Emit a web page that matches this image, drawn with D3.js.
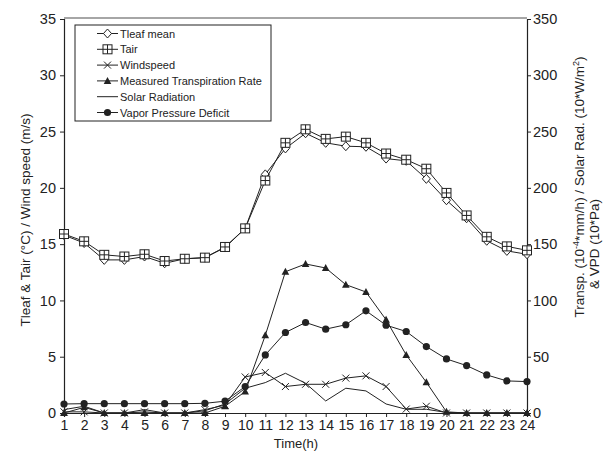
<!DOCTYPE html>
<html><head><meta charset="utf-8">
<script src="https://cdn.jsdelivr.net/npm/d3@7"></script>
<style>
html,body{margin:0;padding:0;background:#fff;}
text{font-family:"Liberation Sans",Arial,sans-serif;fill:#222;}
</style></head>
<body>
<svg id="c" width="609" height="457"></svg>
<script>
const hours = d3.range(1, 25);
const tleaf  = [15.8,15.1,13.6,13.6,13.9,13.3,13.7,13.8,14.7,16.4,21.2,23.5,24.85,24.0,23.7,23.65,22.6,22.4,20.8,18.9,17.3,15.3,14.4,14.1];
const tair   = [15.9,15.25,14.05,13.9,14.1,13.5,13.7,13.8,14.75,16.4,20.65,24.0,25.2,24.35,24.55,24.0,23.05,22.5,21.7,19.55,17.55,15.65,14.8,14.45];
const wind   = [0.1,0.1,0,0,0.1,0,0,0.3,0.7,3.2,3.6,2.35,2.55,2.55,3.1,3.3,2.35,0.35,0.6,0,0,0,0,0];
const transp = [0,5,0,0,0,0,0,0,6,19,69,125.5,132.4,128.8,114,107.5,82.8,51.6,27.3,1,0,0,0,0];
const solar  = [3,6,0,0,3,0,0,2,8,22,27,35.3,26.4,10.7,22,19.6,8,3.3,3.3,0.5,0,0,0,0];
const vpd    = [8,8.3,8.3,8.3,8.3,8.3,8.3,8.6,10.5,23.5,51.6,71.5,80.4,74.5,78.4,90.8,78,72.4,59,48,42.1,33.8,28.5,27.9];
const leftTicks = [0,5,10,15,20,25,30,35];
const rightTicks = [0,50,100,150,200,250,300,350];
const legendLabels = ["Tleaf mean","Tair","Windspeed","Measured Transpiration Rate","Solar Radiation","Vapor Pressure Deficit"];

const svg = d3.select("#c");
const L = 64, R = 527, T = 19, B = 413;
const x = d3.scaleLinear().domain([1,24]).range([L,R]);
const yL = d3.scaleLinear().domain([0,35]).range([B,T]);
const yR = d3.scaleLinear().domain([0,350]).range([B,T]);

// top frame
svg.append("line").attr("x1",L).attr("x2",R).attr("y1",T-1).attr("y2",T-1)
  .attr("stroke","#888").attr("stroke-width",1.5);

// axes
const gL = svg.append("g").attr("transform",`translate(${L},0)`)
  .call(d3.axisLeft(yL).tickValues(leftTicks).tickSize(4).tickPadding(4).tickFormat(d3.format("d")));
const gR = svg.append("g").attr("transform",`translate(${R},0)`)
  .call(d3.axisRight(yR).tickValues(rightTicks).tickSize(4).tickPadding(2).tickFormat(d3.format("d")));
const gB = svg.append("g").attr("transform",`translate(0,${B})`)
  .call(d3.axisBottom(x).tickValues(hours).tickSize(4).tickPadding(3).tickFormat(d3.format("d")));
[gL,gR,gB].forEach(g=>{
  g.select(".domain").attr("stroke","#222").attr("stroke-width",1.2);
  g.selectAll(".tick line").attr("stroke","#222");
  g.selectAll("text").style("font-size","14.5px").attr("fill","#222").style("font-family","'Liberation Sans',Arial,sans-serif");
});
gB.selectAll("text").style("font-size","14px").attr("dy","0.72em");

// axis titles
svg.append("text").attr("transform","translate(30,220) rotate(-90)")
  .attr("text-anchor","middle").style("font-size","13.5px")
  .text("Tleaf & Tair (°C) / Wind speed (m/s)");
const rt = svg.append("text").attr("transform","translate(584,187) rotate(-90)")
  .attr("text-anchor","middle").style("font-size","13.5px");
rt.append("tspan").text("Transp. (10");
rt.append("tspan").attr("baseline-shift","super").style("font-size","9px").text("-4");
rt.append("tspan").text("*mm/h) / Solar Rad. (10*W/m");
rt.append("tspan").attr("baseline-shift","super").style("font-size","9px").text("2");
rt.append("tspan").text(")");
svg.append("text").attr("transform","translate(599,244) rotate(-90)")
  .attr("text-anchor","middle").style("font-size","13.5px").text("& VPD (10*Pa)");
svg.append("text").attr("x",296).attr("y",448).attr("text-anchor","middle")
  .style("font-size","13px").text("Time(h)");

// markers
const stroke = "#222";
function drawMarker(g, type, cx, cy){
  if(type==="diamond"){
    g.append("path").attr("d",`M${cx},${cy-4.5}L${cx+4},${cy}L${cx},${cy+4.5}L${cx-4},${cy}Z`)
      .attr("fill","#fff").attr("stroke",stroke).attr("stroke-width",1);
  } else if(type==="squarecross"){
    g.append("rect").attr("x",cx-4.5).attr("y",cy-4.5).attr("width",9).attr("height",9)
      .attr("fill","#fff").attr("stroke",stroke).attr("stroke-width",1);
    g.append("path").attr("d",`M${cx-4.5},${cy}H${cx+4.5}M${cx},${cy-4.5}V${cy+4.5}`)
      .attr("stroke",stroke).attr("stroke-width",1);
  } else if(type==="x"){
    g.append("path").attr("d",`M${cx-3.5},${cy-3.5}L${cx+3.5},${cy+3.5}M${cx-3.5},${cy+3.5}L${cx+3.5},${cy-3.5}`)
      .attr("stroke",stroke).attr("stroke-width",1);
  } else if(type==="triangle"){
    g.append("path").attr("d",`M${cx},${cy-4}L${cx+3.8},${cy+3}L${cx-3.8},${cy+3}Z`)
      .attr("fill",stroke);
  } else if(type==="circle"){
    g.append("circle").attr("cx",cx).attr("cy",cy).attr("r",3.6).attr("fill",stroke);
  }
}

const series = [
  {vals:tleaf, y:yL, m:"diamond"},
  {vals:tair, y:yL, m:"squarecross"},
  {vals:wind, y:yL, m:"x"},
  {vals:transp, y:yR, m:"triangle"},
  {vals:solar, y:yR, m:null},
  {vals:vpd, y:yR, m:"circle"}
];
series.forEach(s=>{
  const g = svg.append("g");
  const line = d3.line().x((d,i)=>x(hours[i])).y(d=>s.y(d));
  g.append("path").attr("d",line(s.vals)).attr("fill","none").attr("stroke",stroke).attr("stroke-width",1);
  if(s.m) s.vals.forEach((v,i)=>drawMarker(g, s.m, x(hours[i]), s.y(v)));
});

// legend
const lg = svg.append("g");
lg.append("rect").attr("x",75).attr("y",25).attr("width",196).attr("height",96)
  .attr("fill","#fff").attr("stroke","#222").attr("stroke-width",1);
legendLabels.forEach((lab,i)=>{
  const cy = 33.5 + i*15.8;
  lg.append("line").attr("x1",97).attr("x2",118).attr("y1",cy).attr("y2",cy).attr("stroke",stroke).attr("stroke-width",1);
  if(series[i].m) drawMarker(lg, series[i].m, 107.5, cy);
  lg.append("text").attr("x",120).attr("y",cy+4).style("font-size","11px").text(lab);
});
</script>
</body></html>
